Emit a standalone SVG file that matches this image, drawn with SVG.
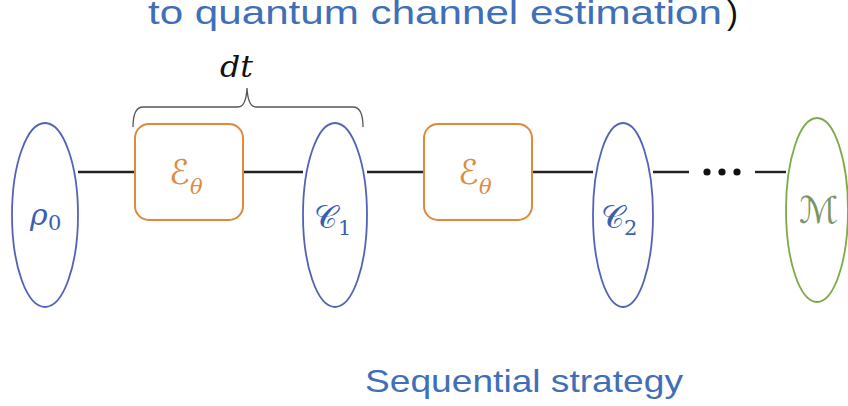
<svg xmlns="http://www.w3.org/2000/svg" width="848" height="406" viewBox="0 0 848 406">
<style>
.title{font-family:"Liberation Sans",Arial,sans-serif;fill:#3f6fb8}
.wire{stroke:#222;stroke-width:2.4;fill:none}
.blue{fill:#fff;stroke:#5362b8;stroke-width:1.8}
.green{fill:#fff;stroke:#7caa48;stroke-width:1.8}
.box{fill:#fff;stroke:#e0883c;stroke-width:2}
.math{font-family:"DejaVu Serif","DejaVu Sans",serif}
.mb{fill:#3a5fb0}
.mo{fill:#df8a3e}
.mg{fill:#7d9466}
</style>
<rect width="848" height="406" fill="#fff"/>
<text class="title" x="148" y="24" font-size="33" textLength="574" lengthAdjust="spacingAndGlyphs">to quantum channel estimation</text>
<text x="727" y="24" font-size="33" font-family="Liberation Sans,Arial,sans-serif" fill="#111">)</text>
<g id="connectors">
<line class="wire" x1="78" y1="172" x2="135" y2="172"/>
<line class="wire" x1="243" y1="172" x2="303" y2="172"/>
<line class="wire" x1="367" y1="172" x2="424" y2="172"/>
<line class="wire" x1="532" y1="172" x2="593" y2="172"/>
<line class="wire" x1="653" y1="172" x2="689" y2="172"/>
<line class="wire" x1="755" y1="172" x2="786" y2="172"/>
<g fill="#111"><circle cx="707" cy="172" r="3.6"/><circle cx="722" cy="172" r="3.6"/><circle cx="737" cy="172" r="3.6"/></g>
</g>
<g id="brace">
<path d="M133 127 Q133 107 143 107 L238 107 Q246 107 247 88 Q248 107 256 107 L353 107 Q363 107 363 127" fill="none" stroke="#555" stroke-width="1.3"/>
<text class="math" x="220" y="77" font-size="30" font-style="italic" fill="#111" textLength="33" lengthAdjust="spacingAndGlyphs">dt</text>
</g>
<g id="rho0">
<ellipse class="blue" cx="45" cy="215" rx="33" ry="92"/>
<text class="math mb" x="30" y="225" font-size="30" font-style="italic">ρ</text>
<text class="math mb" x="48" y="230" font-size="21">0</text>
</g>
<g id="E1">
<rect class="box" x="135" y="124" width="108" height="96" rx="14"/>
<text class="math mo" x="169" y="184" font-size="34">ℰ</text>
<text class="math mo" x="190" y="194" font-size="21" font-style="italic">θ</text>
</g>
<g id="C1">
<ellipse class="blue" cx="335" cy="215" rx="32" ry="92"/>
<text class="math mb" x="314" y="228" font-size="32">𝒞</text>
<text class="math mb" x="338" y="235" font-size="21">1</text>
</g>
<g id="E2">
<rect class="box" x="424" y="124" width="108" height="96" rx="14"/>
<text class="math mo" x="458" y="184" font-size="34">ℰ</text>
<text class="math mo" x="479" y="194" font-size="21" font-style="italic">θ</text>
</g>
<g id="C2">
<ellipse class="blue" cx="623" cy="215" rx="30" ry="92"/>
<text class="math mb" x="601" y="228" font-size="32">𝒞</text>
<text class="math mb" x="624" y="235" font-size="21">2</text>
</g>
<g id="M">
<ellipse class="green" cx="817" cy="210" rx="31" ry="92"/>
<text class="math mg" x="799" y="223" font-size="37">ℳ</text>
</g>
<text class="title" x="365" y="392" font-size="30.5" textLength="318" lengthAdjust="spacingAndGlyphs">Sequential strategy</text>
</svg>
